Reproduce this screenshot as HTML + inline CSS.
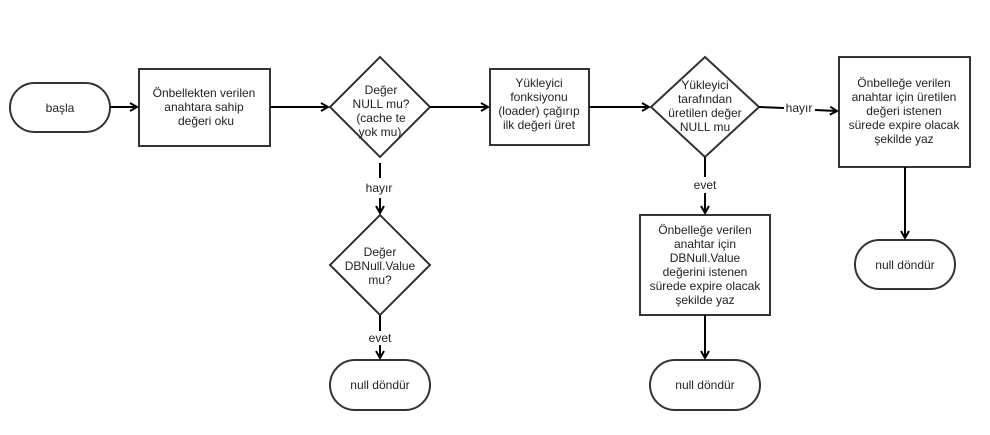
<!DOCTYPE html>
<html><head><meta charset="utf-8"><style>
html,body{margin:0;padding:0;background:#fff;}
svg text{font-family:"Liberation Sans",Arial,sans-serif;font-size:12px;fill:#222;text-anchor:middle;}
</style></head><body>
<svg width="990" height="430" viewBox="0 0 990 430" xmlns="http://www.w3.org/2000/svg">
<defs><marker id="a" markerWidth="10" markerHeight="10" refX="8" refY="5" orient="auto" markerUnits="userSpaceOnUse"><path d="M1,1 L8,5 L1,9" fill="none" stroke="#000" stroke-width="2"/></marker></defs>
<g fill="#fff" stroke="#333" stroke-width="2">
<rect x="10" y="83" width="100" height="49" rx="24.5"/>
<rect x="139" y="69" width="131" height="77"/>
<polygon points="380,57 430,107 380,157 330,107"/>
<rect x="490" y="69" width="99" height="76"/>
<polygon points="705,57 759,107 705,157 651,107"/>
<rect x="839" y="57" width="131" height="110"/>
<polygon points="380,215 430,265 380,315 330,265"/>
<rect x="330" y="360" width="100" height="50" rx="25"/>
<rect x="640" y="215" width="130" height="100"/>
<rect x="650" y="360" width="110" height="50" rx="25"/>
<rect x="855" y="240" width="100" height="49" rx="24.5"/>
</g>
<g stroke="#000" stroke-width="2" fill="none">
<line x1="110" y1="107" x2="137" y2="107" marker-end="url(#a)"/>
<line x1="270" y1="107" x2="328" y2="107" marker-end="url(#a)"/>
<line x1="430" y1="107" x2="488" y2="107" marker-end="url(#a)"/>
<line x1="589" y1="107" x2="649" y2="107" marker-end="url(#a)"/>
<line x1="759" y1="107" x2="784" y2="108"/>
<line x1="815" y1="110" x2="837" y2="111" marker-end="url(#a)"/>
<line x1="380" y1="163" x2="380" y2="178"/>
<line x1="380" y1="198" x2="380" y2="213" marker-end="url(#a)"/>
<line x1="380" y1="315" x2="380" y2="331"/>
<line x1="380" y1="345" x2="380" y2="358" marker-end="url(#a)"/>
<line x1="705" y1="157" x2="705" y2="177"/>
<line x1="705" y1="193" x2="705" y2="213" marker-end="url(#a)"/>
<line x1="705" y1="315" x2="705" y2="358" marker-end="url(#a)"/>
<line x1="905" y1="167" x2="905" y2="238" marker-end="url(#a)"/>
</g>
<text x="60" y="112">başla</text>
<text x="204" y="97">Önbellekten verilen</text>
<text x="204" y="111">anahtara sahip</text>
<text x="206" y="125">değeri oku</text>
<text x="381" y="94">Değer</text>
<text x="381" y="108">NULL mu?</text>
<text x="381" y="122">(cache te</text>
<text x="380" y="136">yok mu)</text>
<text x="539" y="87">Yükleyici</text>
<text x="539" y="101">fonksiyonu</text>
<text x="539" y="115">(loader) çağırıp</text>
<text x="539" y="129">ilk değeri üret</text>
<text x="705" y="89">Yükleyici</text>
<text x="705" y="103">tarafından</text>
<text x="705" y="117">üretilen değer</text>
<text x="705" y="131">NULL mu</text>
<text x="799" y="112">hayır</text>
<text x="904" y="87">Önbelleğe verilen</text>
<text x="904" y="101">anahtar için üretilen</text>
<text x="904" y="115">değeri istenen</text>
<text x="904" y="129">sürede expire olacak</text>
<text x="904" y="143">şekilde yaz</text>
<text x="379" y="192">hayır</text>
<text x="380" y="256">Değer</text>
<text x="380" y="270">DBNull.Value</text>
<text x="380" y="284">mu?</text>
<text x="380" y="342">evet</text>
<text x="380" y="389">null döndür</text>
<text x="705" y="189">evet</text>
<text x="705" y="234">Önbelleğe verilen</text>
<text x="705" y="248">anahtar için</text>
<text x="705" y="262">DBNull.Value</text>
<text x="705" y="276">değerini istenen</text>
<text x="705" y="290">sürede expire olacak</text>
<text x="705" y="304">şekilde yaz</text>
<text x="705" y="389">null döndür</text>
<text x="905" y="269">null döndür</text>
</svg>
</body></html>
